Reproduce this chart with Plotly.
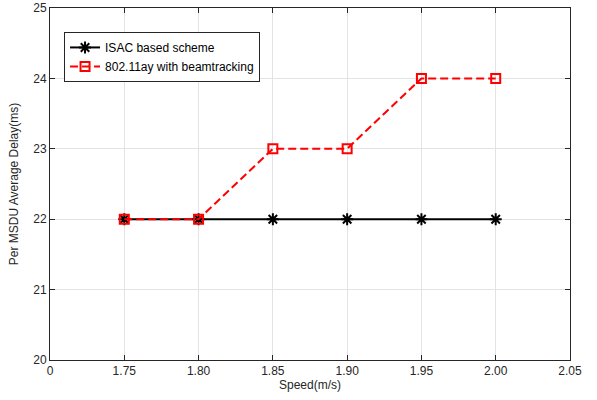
import plotly.graph_objects as go

speeds = ["1.75", "1.80", "1.85", "1.90", "1.95", "2.00"]
isac_delay = [22, 22, 22, 22, 22, 22]
ay_delay = [22, 22, 23, 23, 24, 24]
x_tick_labels = ["0", "1.75", "1.80", "1.85", "1.90", "1.95", "2.00", "2.05"]
y_ticks = [20, 21, 22, 23, 24, 25]

xpos = [x_tick_labels.index(s) for s in speeds]

FONT = "Liberation Sans, Arial"

fig = go.Figure()
fig.add_trace(go.Scatter(
    x=xpos, y=isac_delay, mode="lines+markers", name="ISAC based scheme",
    line=dict(color="black", width=2),
    marker=dict(symbol="asterisk-open", size=10, color="black", line=dict(color="black", width=2)),
))
fig.add_trace(go.Scatter(
    x=xpos, y=ay_delay, mode="lines+markers", name="802.11ay with beamtracking",
    line=dict(color="#ff0000", width=2, dash="8px,4px"),
    marker=dict(symbol="square-open", size=9, color="#ff0000", line=dict(color="#ff0000", width=2)),
))

axis_common = dict(
    showline=True, linecolor="#262626", linewidth=1, mirror="ticks",
    ticks="inside", ticklen=5, tickcolor="#262626",
    showgrid=True, gridcolor="#e3e3e3", gridwidth=1, zeroline=False,
    tickfont=dict(family=FONT, size=12, color="#262626"),
    automargin=False,
)

fig.update_xaxes(
    range=[0, len(x_tick_labels) - 1],
    tickvals=list(range(len(x_tick_labels))), ticktext=x_tick_labels,
    title=dict(text="Speed(m/s)", font=dict(family=FONT, size=12, color="#262626"), standoff=0),
    **axis_common,
)
fig.update_yaxes(
    range=[20, 25], tickvals=y_ticks,
    title=dict(text="Per MSDU Average Delay(ms)", font=dict(family=FONT, size=12, color="#262626"), standoff=12),
    **axis_common,
)

fig.update_layout(
    width=597, height=400,
    margin=dict(l=50, r=27, t=8, b=40, autoexpand=False),
    paper_bgcolor="white", plot_bgcolor="white",
    font=dict(family=FONT, size=12, color="#262626"),
    legend=dict(
        x=0.027, y=0.932, xanchor="left", yanchor="top",
        bgcolor="white", bordercolor="#262626", borderwidth=1,
        font=dict(family=FONT, size=12, color="black"),
        itemwidth=30, tracegroupgap=0,
    ),
    showlegend=True,
)

fig.write_html("out.html", config={"displayModeBar": False},
               post_script="document.body.style.margin='0';")
